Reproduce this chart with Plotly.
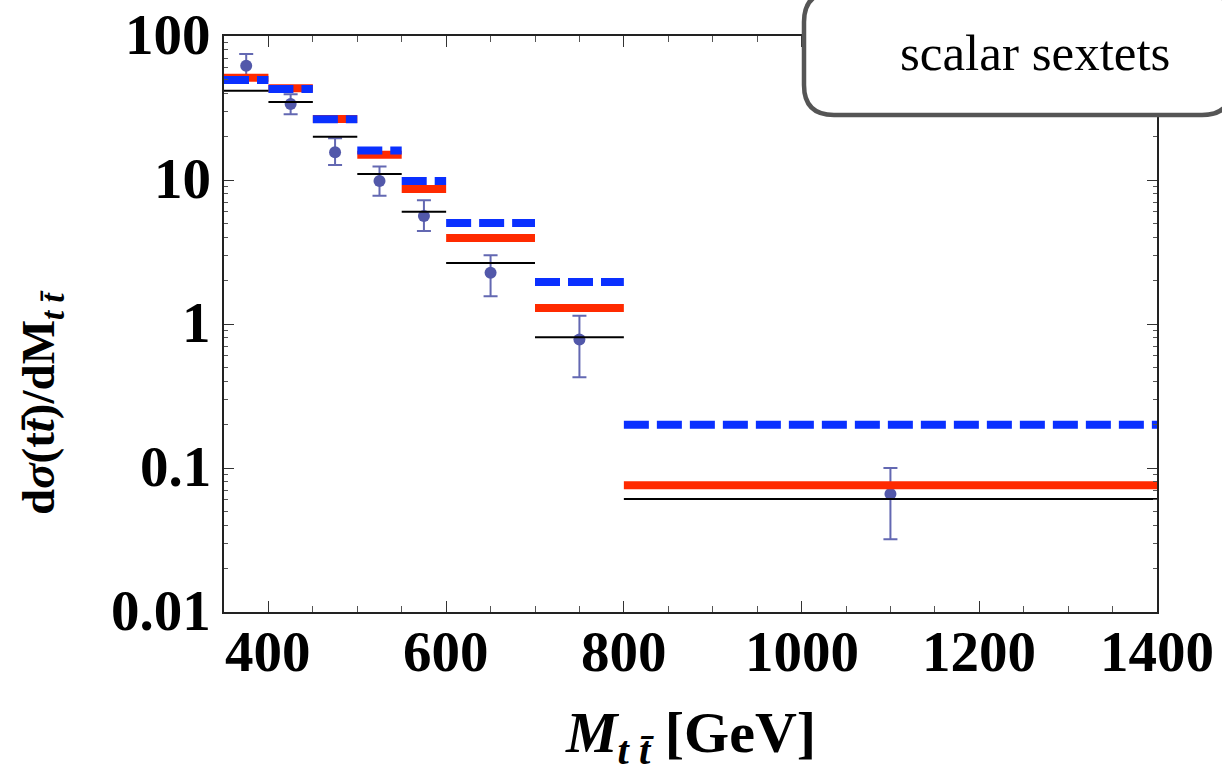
import math
import plotly.graph_objects as go

# Invariant-mass bins [GeV]
bin_edges = [350, 400, 450, 500, 550, 600, 700, 800, 1400]

# Theory predictions per bin
sextet_blue = [49.5, 42.8, 26.4, 16.0, 9.85, 5.03, 1.96, 0.200]
sextet_red = [51.3, 43.3, 26.5, 15.0, 8.66, 3.96, 1.29, 0.076]
standard_black = [41.7, 34.8, 20.0, 11.0, 6.03, 2.65, 0.81, 0.061]

# Measured points with asymmetric errors
data_x = [375, 425, 475, 525, 575, 650, 750, 1100]
data_y = [62.2, 33.7, 15.6, 9.85, 5.62, 2.27, 0.78, 0.066]
data_hi = [75.0, 39.4, 19.5, 12.4, 7.23, 3.00, 1.14, 0.100]
data_lo = [50.0, 28.6, 12.7, 7.78, 4.42, 1.56, 0.427, 0.032]

x_ticks = [400, 600, 800, 1000, 1200, 1400]
x_ticktext = ["400", "600", "800", "1000", "1200", "1400"]
y_ticks = [0.01, 0.1, 1, 10, 100]
y_ticktext = ["0.01", "0.1", "1", "10", "100"]

# Figure geometry in pixels
W, H = 1222, 774
PL, PR, PT, PB = 224, 1157, 36, 612

SERIF = "Liberation Serif"
RED = "#ff2a00"
BLUE = "#0a30ff"
POINT = "#5258aa"


def px_to_paper(px, py):
    return (px - PL) / (PR - PL), (PB - py) / (PB - PT)


def steps(values):
    xs, ys = [], []
    for i, v in enumerate(values):
        xs += [bin_edges[i], bin_edges[i + 1], None]
        ys += [v, v, None]
    return xs, ys


fig = go.Figure()

# data points with error bars (drawn underneath the predictions)
fig.add_trace(go.Scatter(
    x=data_x, y=data_y, mode="markers",
    marker=dict(color=POINT, size=12),
    error_y=dict(
        type="data", symmetric=False,
        array=[h - y for h, y in zip(data_hi, data_y)],
        arrayminus=[y - l for y, l in zip(data_y, data_lo)],
        color="rgba(82,88,170,0.9)", thickness=2, width=7,
    ),
    showlegend=False,
))

xr, yr = steps(sextet_red)
fig.add_trace(go.Scatter(x=xr, y=yr, mode="lines", connectgaps=False,
                         line=dict(color=RED, width=8), showlegend=False))
xb, yb = steps(sextet_blue)
fig.add_trace(go.Scatter(x=xb, y=yb, mode="lines", connectgaps=False,
                         line=dict(color=BLUE, width=8, dash="25px,8px"),
                         showlegend=False))
xk, yk = steps(standard_black)
fig.add_trace(go.Scatter(x=xk, y=yk, mode="lines", connectgaps=False,
                         line=dict(color="black", width=2), showlegend=False))

fig.update_xaxes(
    range=[350, 1400], tickvals=x_ticks, ticks="inside", ticklen=11,
    tickwidth=1.2, tickcolor="#333", showticklabels=False,
    minor=dict(dtick=50, tick0=350, ticks="inside", ticklen=6,
               tickcolor="#555", tickwidth=1),
    showline=True, linecolor="#222", linewidth=1.5, mirror="ticks",
    showgrid=False, zeroline=False, automargin=False,
)
fig.update_yaxes(
    type="log", range=[-2, 2], tickvals=y_ticks, showticklabels=False,
    ticks="inside", ticklen=10, tickwidth=1.2, tickcolor="#333",
    minor=dict(dtick="D1", ticks="inside", ticklen=4,
               tickcolor="#555", tickwidth=1),
    showline=True, linecolor="#222", linewidth=1.5, mirror="ticks",
    showgrid=False, zeroline=False, automargin=False,
)

tick_font = dict(family=SERIF, size=57, color="black", weight="bold")

# tick labels, placed at the axis values
_, xlab_y = px_to_paper(0, 651)
for v, t in zip(x_ticks, x_ticktext):
    fig.add_annotation(x=v, y=xlab_y, xref="x", yref="paper", text=t,
                       showarrow=False, font=tick_font,
                       xanchor="center", yanchor="middle")
ylab_x, _ = px_to_paper(213, 0)
for v, t in zip(y_ticks, y_ticktext):
    fig.add_annotation(x=ylab_x, y=math.log10(v), xref="paper", yref="y",
                       text=t, showarrow=False, font=tick_font,
                       xanchor="right", yanchor="middle", yshift=2)

# axis titles
tx, ty = px_to_paper(690, 736)
fig.add_annotation(
    x=tx, y=ty, xref="paper", yref="paper", showarrow=False,
    text="<i>M</i><sub><i>t t̄</i></sub> [GeV]",
    font=dict(family=SERIF, size=58, color="black", weight="bold"),
    xanchor="center", yanchor="middle",
)
lx, ly = px_to_paper(41, 403)
fig.add_annotation(
    x=lx, y=ly, xref="paper", yref="paper", showarrow=False,
    text="d<i>σ</i>(t<i>t̄</i>)/dM<sub><i>t t̄</i></sub>",
    textangle=-90,
    font=dict(family=SERIF, size=47, color="black", weight="bold"),
    xanchor="center", yanchor="middle",
)

# rounded label box in the top-right corner
bx0, by0 = px_to_paper(804, 115)
bx1, by1 = px_to_paper(1232, -8)
rx = 30 / (PR - PL)
ry = 30 / (PB - PT)
box_path = (
    f"M {bx0 + rx} {by0} L {bx1 - rx} {by0} Q {bx1} {by0} {bx1} {by0 + ry} "
    f"L {bx1} {by1 - ry} Q {bx1} {by1} {bx1 - rx} {by1} "
    f"L {bx0 + rx} {by1} Q {bx0} {by1} {bx0} {by1 - ry} "
    f"L {bx0} {by0 + ry} Q {bx0} {by0} {bx0 + rx} {by0} Z"
)
fig.add_shape(type="path", path=box_path, xref="paper", yref="paper",
              line=dict(color="#555555", width=4.5), fillcolor="white",
              layer="above")
cx, cy = px_to_paper(1035, 53)
fig.add_annotation(
    x=cx, y=cy, xref="paper", yref="paper", showarrow=False,
    text="scalar sextets",
    font=dict(family=SERIF, size=51, color="black"),
    xanchor="center", yanchor="middle",
)

fig.update_layout(
    width=W, height=H,
    margin=dict(l=PL, r=W - PR, t=PT, b=H - PB),
    plot_bgcolor="white", paper_bgcolor="white",
    showlegend=False,
)

fig.write_html("out.html")
